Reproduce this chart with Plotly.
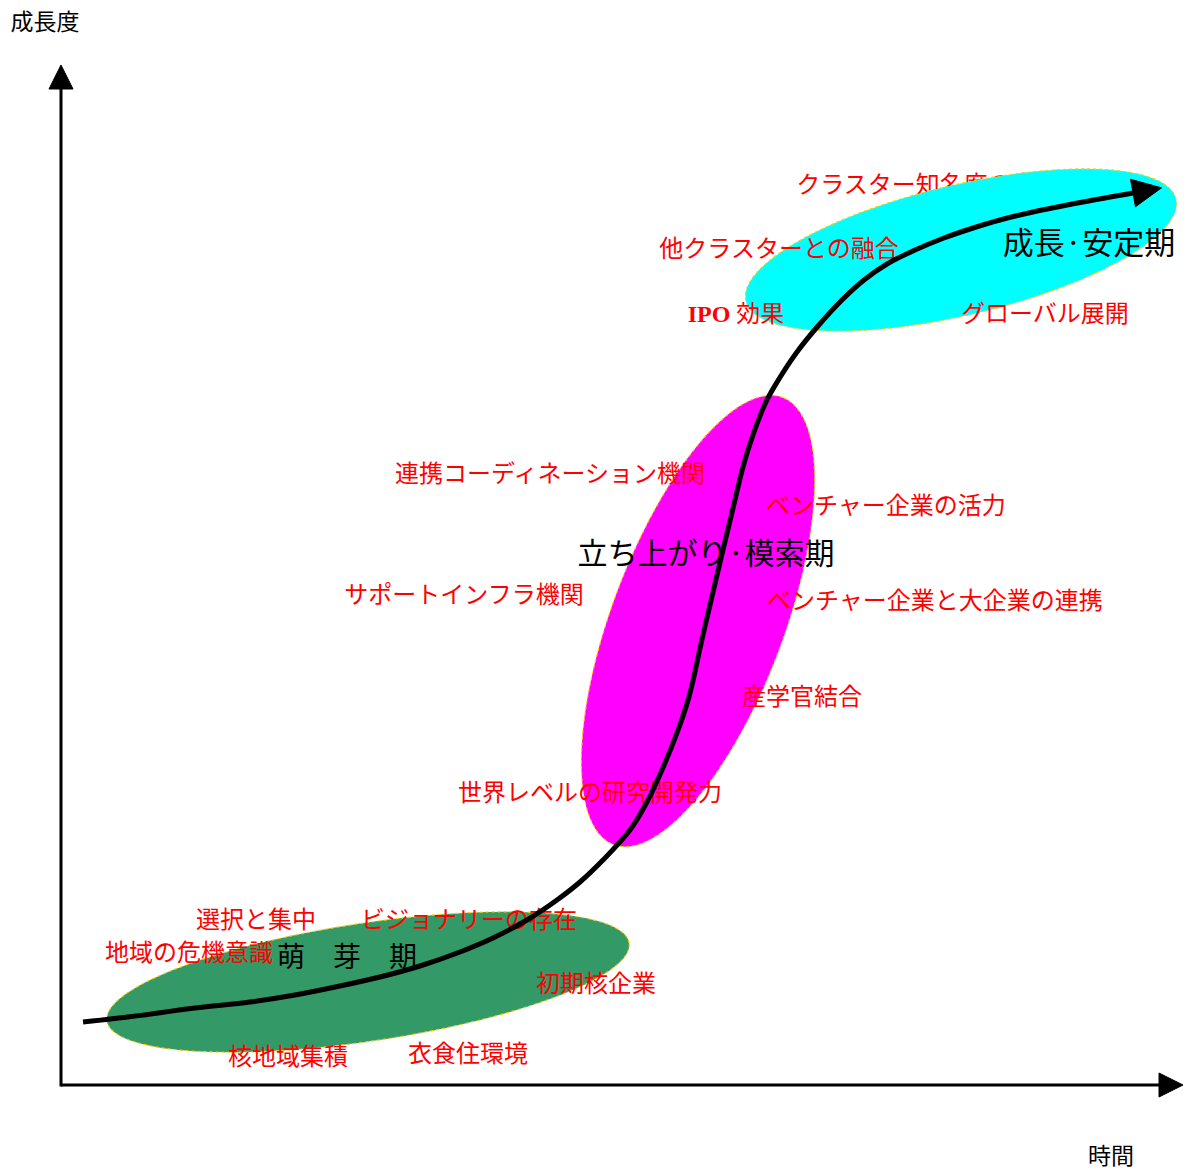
import numpy as np
import plotly.graph_objects as go

W, H = 1188, 1170

# ---- S-curve (page-pixel coordinates, y grows downward) ----
CURVE_X = [83, 128, 195, 250, 295, 340, 380, 420, 460, 493, 527, 557, 580, 603, 630, 647,
           662, 677, 689, 703, 723, 735, 743, 753, 766, 779, 797, 818, 842, 864, 887, 915,
           944, 970, 1000, 1033, 1083, 1133]
CURVE_Y = [1022, 1017, 1008, 1002, 995, 986, 977, 966, 952, 938, 920, 900, 882, 860, 830, 802,
           770, 733, 697, 635, 550, 500, 467, 435, 402, 379, 352, 326, 300, 280, 264, 250,
           238, 229, 220, 212, 202, 193]

# ---- stage ellipses ----
ELLIPSE_CX = [368, 698, 961]
ELLIPSE_CY = [982, 621, 250]
ELLIPSE_A = [264, 239, 221]
ELLIPSE_B = [59, 86, 65]
ELLIPSE_ANGLE = [8.5, 69.3, 13.3]
ELLIPSE_COLOR = ["#339966", "#ff00ff", "#00ffff"]

# ---- labels ----
HIDDEN_TEXT = ["クラスター知名度の向上"]
HIDDEN_X = [928]
HIDDEN_Y = [187]

FACTOR_TEXT = ["他クラスターとの融合", "<b>IPO</b> 効果", "グローバル展開",
               "連携コーディネーション機関", "ベンチャー企業の活力", "サポートインフラ機関",
               "ベンチャー企業と大企業の連携", "産学官結合", "世界レベルの研究開発力",
               "選択と集中", "ビジョナリーの存在", "地域の危機意識", "初期核企業",
               "核地域集積", "衣食住環境"]
FACTOR_X = [779, 736, 1045, 550, 886, 464, 935, 802, 590, 256, 469, 189, 596, 288, 468]
FACTOR_Y = [251, 316, 316, 476, 508, 597, 603, 699, 795, 922, 922, 955, 986, 1059, 1056]

STAGE_TEXT = ["成長·安定期", "立ち上がり·模索期", "萌\u3000芽\u3000期"]
STAGE_X = [1089, 706, 347]
STAGE_Y = [246, 556, 960]
STAGE_SIZE = [31, 30, 28]

AXIS_TEXT = ["成長度", "時間"]
AXIS_X = [45, 1111]
AXIS_Y = [24, 1158]

# axes
ORIGIN = (61, 1085)
X_TIP = 1183
Y_TIP = 65
AXIS_HEAD_LEN = 24
AXIS_HEAD_HALF = 12
CURVE_HEAD_LEN = 29
CURVE_HEAD_HALF = 14

RED_FONT = dict(family="Liberation Serif, Noto Sans CJK JP", size=24, color="#ff0000")
AXIS_FONT = dict(family="Noto Sans CJK JP", size=23, color="#000000")

fig = go.Figure()

# hidden label (drawn under the cyan ellipse)
fig.add_trace(go.Scatter(x=HIDDEN_X, y=HIDDEN_Y, text=HIDDEN_TEXT, mode="text",
                         textposition="middle center", textfont=RED_FONT, hoverinfo="skip"))

t = np.linspace(0, 2 * np.pi, 300)
for cx, cy, a, b, ang, col in zip(ELLIPSE_CX, ELLIPSE_CY, ELLIPSE_A, ELLIPSE_B,
                                  ELLIPSE_ANGLE, ELLIPSE_COLOR):
    th = np.deg2rad(ang)
    ex = cx + a * np.cos(t) * np.cos(th) - b * np.sin(t) * np.sin(th)
    ey = cy - (a * np.cos(t) * np.sin(th) + b * np.sin(t) * np.cos(th))
    fig.add_trace(go.Scatter(x=ex, y=ey, mode="lines", fill="toself", fillcolor=col,
                             line=dict(color="#ffcc00", width=1.2, dash="dot", simplify=False),
                             hoverinfo="skip"))

fig.add_trace(go.Scatter(x=FACTOR_X, y=FACTOR_Y, text=FACTOR_TEXT, mode="text",
                         textposition="middle center", textfont=RED_FONT, hoverinfo="skip"))
fig.add_trace(go.Scatter(x=STAGE_X, y=STAGE_Y, text=STAGE_TEXT, mode="text",
                         textposition="middle center",
                         textfont=dict(family="Noto Sans CJK JP", size=STAGE_SIZE, color="#000000"),
                         hoverinfo="skip"))
fig.add_trace(go.Scatter(x=AXIS_X, y=AXIS_Y, text=AXIS_TEXT, mode="text",
                         textposition="middle center", textfont=AXIS_FONT, hoverinfo="skip"))

# growth curve
fig.add_trace(go.Scatter(x=CURVE_X, y=CURVE_Y, mode="lines",
                         line=dict(color="black", width=5, shape="spline", smoothing=1.0,
                                   simplify=False),
                         hoverinfo="skip"))

# curve arrowhead, oriented along the last segment
dx = CURVE_X[-1] - CURVE_X[-2]
dy = CURVE_Y[-1] - CURVE_Y[-2]
n = np.hypot(dx, dy)
ux, uy = dx / n, dy / n
bx, by = CURVE_X[-1], CURVE_Y[-1]
tx, ty = bx + CURVE_HEAD_LEN * ux, by + CURVE_HEAD_LEN * uy
p1 = (bx - CURVE_HEAD_HALF * uy, by + CURVE_HEAD_HALF * ux)
p2 = (bx + CURVE_HEAD_HALF * uy, by - CURVE_HEAD_HALF * ux)
fig.add_shape(type="path", xref="x", yref="y", layer="above",
              path=f"M{tx},{ty} L{p1[0]},{p1[1]} L{p2[0]},{p2[1]} Z",
              fillcolor="black", line=dict(color="black", width=1))

# axes with arrowheads
ox, oy = ORIGIN
fig.add_shape(type="line", xref="x", yref="y", x0=ox, y0=oy, x1=X_TIP - AXIS_HEAD_LEN, y1=oy,
              line=dict(color="black", width=3))
fig.add_shape(type="line", xref="x", yref="y", x0=ox, y0=oy + 1.5, x1=ox, y1=Y_TIP + AXIS_HEAD_LEN,
              line=dict(color="black", width=3))
fig.add_shape(type="path", xref="x", yref="y",
              path=f"M{X_TIP},{oy} L{X_TIP - AXIS_HEAD_LEN},{oy - AXIS_HEAD_HALF} "
                   f"L{X_TIP - AXIS_HEAD_LEN},{oy + AXIS_HEAD_HALF} Z",
              fillcolor="black", line=dict(color="black", width=1))
fig.add_shape(type="path", xref="x", yref="y",
              path=f"M{ox},{Y_TIP} L{ox - AXIS_HEAD_HALF},{Y_TIP + AXIS_HEAD_LEN} "
                   f"L{ox + AXIS_HEAD_HALF},{Y_TIP + AXIS_HEAD_LEN} Z",
              fillcolor="black", line=dict(color="black", width=1))

fig.update_layout(width=W, height=H, margin=dict(l=0, r=0, t=0, b=0),
                  plot_bgcolor="white", paper_bgcolor="white", showlegend=False,
                  xaxis=dict(range=[0, W], visible=False, fixedrange=True),
                  yaxis=dict(range=[H, 0], visible=False, fixedrange=True))

fig.write_html("out.html", config={"displayModeBar": False})
